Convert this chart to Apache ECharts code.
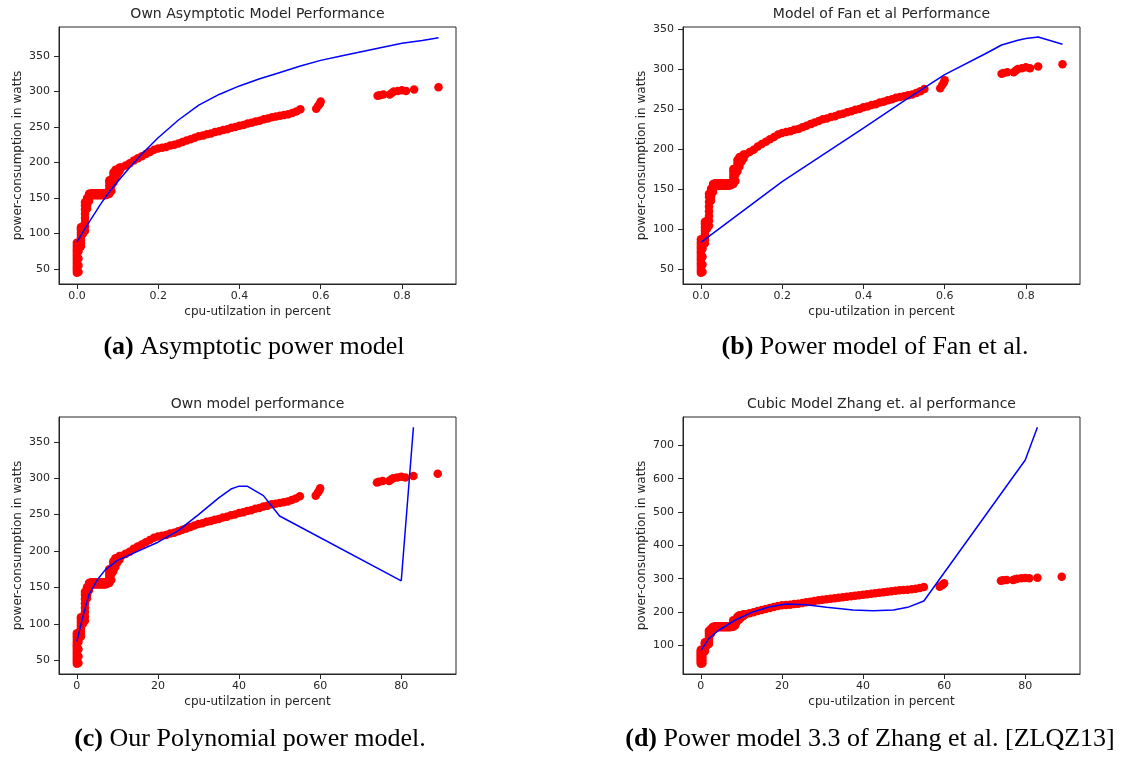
<!DOCTYPE html>
<html>
<head>
<meta charset="utf-8">
<script src="https://cdn.jsdelivr.net/npm/echarts@6/dist/echarts.min.js"></script>
<style>
  html, body { margin: 0; padding: 0; background: #fff; }
  #chart { width: 1129px; height: 763px; }
</style>
</head>
<body>
<div id="chart"></div>
<script>
// measured samples (utilization as fraction, power in watts)
const measuredUtil = [
  0, 0, 0, 0, 0, 0, 0, 0, 0, 0, 0, 0, 0, 0, 0,
  0.004, 0.004, 0.004, 0.004, 0.004,
  0.01, 0.01, 0.01, 0.01, 0.01, 0.01, 0.01, 0.01,
  0.015, 0.015, 0.015,
  0.02, 0.02, 0.02, 0.02, 0.02, 0.02, 0.02, 0.02,
  0.025, 0.025, 0.025, 0.025,
  0.03, 0.03, 0.03, 0.03,
  0.035, 0.035, 0.04, 0.04, 0.045, 0.045, 0.05, 0.05, 0.055, 0.055,
  0.06, 0.06, 0.065, 0.065, 0.07, 0.07, 0.075, 0.075,
  0.08, 0.08, 0.08, 0.08, 0.08, 0.08,
  0.085, 0.085, 0.085,
  0.09, 0.09, 0.09, 0.09,
  0.095, 0.095, 0.095,
  0.1, 0.1, 0.105, 0.105,
  0.11, 0.12, 0.13, 0.14, 0.15, 0.16, 0.17, 0.18, 0.19, 0.20,
  0.21, 0.22, 0.23, 0.24, 0.25, 0.26, 0.27, 0.28, 0.29, 0.30,
  0.31, 0.32, 0.33, 0.34, 0.35, 0.36, 0.37, 0.38, 0.39, 0.40,
  0.41, 0.42, 0.43, 0.44, 0.45, 0.46, 0.47, 0.48, 0.49, 0.50,
  0.51, 0.52, 0.53, 0.54, 0.55,
  0.589, 0.594, 0.598, 0.6,
  0.74, 0.745, 0.754, 0.77, 0.775, 0.78, 0.79, 0.8, 0.81, 0.83, 0.89
];
const measuredPower = [
  45, 48, 51, 54, 57, 60, 63, 66, 69, 72, 75, 78, 81, 84, 87,
  46, 55, 65, 75, 85,
  82, 86, 90, 94, 98, 102, 106, 109,
  100, 106, 110,
  104, 110, 116, 122, 128, 134, 140, 144,
  135, 140, 146, 150,
  146, 150, 154, 156,
  154, 157, 154, 157, 154, 157, 154, 157, 154, 157,
  154, 157, 154, 157, 154, 157, 155, 158,
  156, 160, 164, 168, 172, 175,
  160, 168, 175,
  172, 177, 182, 186,
  178, 184, 190,
  184, 190, 188, 193,
  193, 196, 199, 203, 206, 209, 212, 215, 218, 220,
  221, 222, 224, 225, 227, 229, 231, 233, 235, 237,
  238, 240, 241, 243, 244, 246, 247, 249, 250, 252,
  253, 255, 256, 258, 259, 261, 262, 264, 265, 266,
  267, 268, 270, 272, 275,
  276, 280, 283, 286,
  294, 295, 296, 296, 298, 300, 301, 302, 301, 303, 306
];

// model curves
const asymUtil = [0, 0.02, 0.04, 0.06, 0.08, 0.1, 0.13, 0.16, 0.2, 0.25, 0.3, 0.35, 0.4, 0.45, 0.5, 0.55, 0.6, 0.65, 0.7, 0.75, 0.8, 0.85, 0.89];
const asymPower = [88, 107, 125, 143, 159, 173, 193, 212, 235, 260, 281, 296, 308, 318, 327, 336, 344, 350, 356, 362, 368, 372, 376];

const fanUtil = [0, 0.2, 0.4, 0.5, 0.6, 0.7, 0.74, 0.78, 0.8, 0.83, 0.89];
const fanPower = [83, 159, 226, 260, 293, 319, 330, 336, 338, 340, 331];

const polyUtil = [0, 1.5, 3, 5, 7, 10, 14, 20, 25, 30, 35, 38, 40, 42, 46, 50, 80, 83];
const polyPower = [76, 110, 140, 160, 174, 187, 197, 212, 228, 250, 273, 285, 289, 289, 276, 248, 159, 370];

const cubicUtil = [0, 2, 4.5, 8.5, 13, 17, 21, 26, 31, 37.5, 42.5, 47.5, 51, 55, 80, 83];
const cubicPower = [84, 121, 146, 176, 201, 216, 224, 222, 214, 206, 204, 206, 214, 233, 656, 754];

const fracTicks = [0, 0.2, 0.4, 0.6, 0.8];
const pctTicks = [0, 20, 40, 60, 80];
const wattTicks = [50, 100, 150, 200, 250, 300, 350];
const cubicWattTicks = [100, 200, 300, 400, 500, 600, 700];

const titles = ["Own Asymptotic Model Performance", "Model of Fan et al Performance", "Own model performance", "Cubic Model Zhang et. al performance"];
const captions = [
  ["(a)", "Asymptotic power model"],
  ["(b)", "Power model of Fan et al."],
  ["(c)", "Our Polynomial power model."],
  ["(d)", "Power model 3.3 of Zhang et al. [ZLQZ13]"]
];

const chart = echarts.init(document.getElementById("chart"));

const ink = "#262626";
const font = "DejaVu Sans";

const panels = [
  { left: 59, top: 27, capX: 254, capY: 347, xMin: -0.044, xMax: 0.933, xTicks: fracTicks, yMin: 29, yMax: 391, yTicks: wattTicks, lineX: asymUtil, lineY: asymPower, scale: 1, dec: 1 },
  { left: 683, top: 27, capX: 875, capY: 347, xMin: -0.044, xMax: 0.933, xTicks: fracTicks, yMin: 31, yMax: 352.5, yTicks: wattTicks, lineX: fanUtil, lineY: fanPower, scale: 1, dec: 1 },
  { left: 59, top: 417, capX: 250, capY: 739, xMin: -4.4, xMax: 93.5, xTicks: pctTicks, yMin: 31, yMax: 384, yTicks: wattTicks, lineX: polyUtil, lineY: polyPower, scale: 100, dec: 0 },
  { left: 683, top: 417, capX: 870, capY: 739, xMin: -4.4, xMax: 93.5, xTicks: pctTicks, yMin: 14, yMax: 785, yTicks: cubicWattTicks, lineX: cubicUtil, lineY: cubicPower, scale: 100, dec: 0 }
];
const W = 397, H = 257;

const grid = [], xAxis = [], yAxis = [], series = [], graphic = [];

panels.forEach((p, i) => {
  grid.push({ left: p.left, top: p.top, width: W, height: H, show: true, borderColor: ink, borderWidth: 1, backgroundColor: "#fff" });
  xAxis.push({
    type: "value", gridIndex: i, min: p.xMin, max: p.xMax,
    name: "cpu-utilzation in percent", nameLocation: "middle", nameGap: 22,
    nameTextStyle: { fontFamily: font, fontSize: 12, color: ink },
    axisLine: { show: true, onZero: false, lineStyle: { color: ink } },
    axisTick: { show: true, length: 5, customValues: p.xTicks, lineStyle: { color: ink } },
    axisLabel: { customValues: p.xTicks, margin: 7, fontFamily: font, fontSize: 11, color: ink,
      formatter: v => v.toFixed(p.dec) },
    splitLine: { show: false }
  });
  yAxis.push({
    type: "value", gridIndex: i, min: p.yMin, max: p.yMax,
    name: "power-consumption in watts", nameLocation: "middle", nameGap: 35,
    nameTextStyle: { fontFamily: font, fontSize: 12, color: ink },
    axisLine: { show: true, onZero: false, lineStyle: { color: ink } },
    axisTick: { show: true, length: 5, customValues: p.yTicks, lineStyle: { color: ink } },
    axisLabel: { customValues: p.yTicks, margin: 9, fontFamily: font, fontSize: 11, color: ink },
    splitLine: { show: false }
  });
  series.push({
    type: "scatter", xAxisIndex: i, yAxisIndex: i, symbolSize: 8.5,
    itemStyle: { color: "#ff0000", opacity: 1 },
    data: measuredUtil.map((u, k) => [u * p.scale, measuredPower[k]]),
    silent: true, z: 2
  });
  series.push({
    type: "line", xAxisIndex: i, yAxisIndex: i, showSymbol: false, smooth: false,
    lineStyle: { color: "#0000ff", width: 1.5 },
    data: p.lineX.map((u, k) => [u, p.lineY[k]]),
    silent: true, z: 3
  });
  graphic.push({
    type: "text", x: p.left + W / 2, y: p.top - 13,
    style: { text: titles[i], fill: ink, font: "14px 'DejaVu Sans'", align: "center", verticalAlign: "middle" }
  });
  graphic.push({
    type: "text", x: p.capX, y: p.capY,
    style: {
      text: "{b|" + captions[i][0] + "} " + captions[i][1],
      fill: "#000", font: "26px 'Liberation Serif'", align: "center", verticalAlign: "middle",
      rich: { b: { fontWeight: "bold", fontFamily: "Liberation Serif", fontSize: 26, fill: "#000" } }
    }
  });
});

chart.setOption({
  animation: false,
  backgroundColor: "#fff",
  grid, xAxis, yAxis, series, graphic
});
</script>
</body>
</html>
